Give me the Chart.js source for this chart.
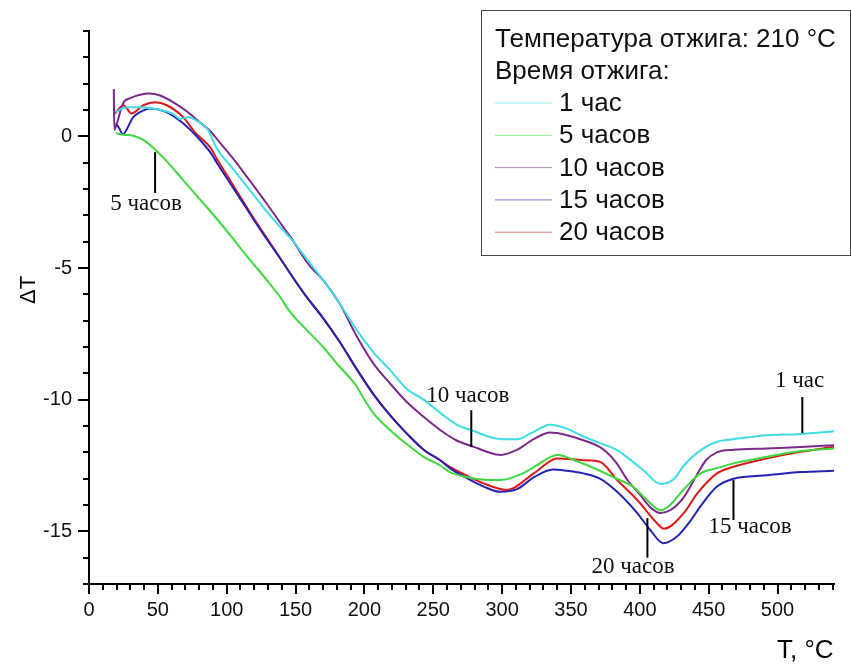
<!DOCTYPE html>
<html>
<head>
<meta charset="utf-8">
<script src="https://cdn.jsdelivr.net/npm/chart.js@4"></script>
<style>
  body { margin: 0; background: #fff; }
  canvas { display: block; }
</style>
</head>
<body>
<canvas id="chart" width="851" height="664"></canvas>
<script>
// annealing time series (legend labels)
const seriesNames = ['1 час', '5 часов', '10 часов', '15 часов', '20 часов'];
const seriesColors = ['#3fdde3', '#3fd83f', '#7b2a8c', '#2424b4', '#e01818'];

// 1 hour
const cyanT = [19.5, 22, 27.5, 37, 50, 56, 62, 66, 72, 78, 86, 92.8, 104, 117, 129, 141, 146, 158, 170, 182, 194.5, 206.6, 218.7, 231, 243, 255, 267, 280, 290, 300, 311, 320, 335, 347, 359, 371, 383, 391, 403, 415, 425, 432, 442, 456, 468, 492, 517, 541];
const cyanV = [0.9, 1.0, 1.1, 1.1, 1.02, 0.95, 0.82, 0.66, 0.72, 0.6, 0.28, -0.45, -1.2, -2.05, -2.85, -3.57, -3.85, -4.65, -5.46, -6.35, -7.36, -8.2, -8.88, -9.6, -10.0, -10.5, -10.95, -11.2, -11.4, -11.5, -11.5, -11.3, -10.95, -11.1, -11.4, -11.65, -11.9, -12.2, -12.7, -13.2, -13.0, -12.5, -12.0, -11.6, -11.5, -11.35, -11.3, -11.2];

// 5 hours
const greenT = [19.5, 25, 32, 40, 47, 56.5, 68.5, 80.7, 92.8, 104, 117, 129, 138.8, 146, 158, 170, 182, 190, 194.5, 200, 206.6, 218.7, 231, 243, 255, 262, 275, 290, 299, 315, 325, 340, 355, 371, 383, 395, 405, 415, 422, 432, 444, 456, 468, 492.5, 516.7, 541];
const greenV = [0.12, 0.06, 0.02, -0.15, -0.45, -0.95, -1.67, -2.4, -3.13, -3.85, -4.7, -5.45, -6.1, -6.67, -7.35, -8.0, -8.75, -9.2, -9.51, -10.0, -10.52, -11.16, -11.7, -12.17, -12.5, -12.75, -12.95, -13.05, -13.05, -12.8, -12.5, -12.1, -12.35, -12.7, -13.0, -13.3, -13.8, -14.2, -14.0, -13.4, -12.8, -12.6, -12.42, -12.17, -11.95, -11.85];

// 10 hours
const purpleT = [18, 18.4, 20, 24.7, 30, 44, 51.6, 61, 71, 80, 88, 92.8, 104, 117, 129, 141, 146, 160, 170, 182, 194.5, 206.6, 218.7, 231, 243, 255, 267, 280, 290, 299, 311, 323, 335, 347, 359, 371, 376, 383, 391, 400, 408, 415, 422, 432, 442, 448, 456, 468, 492, 517, 541];
const purpleV = [1.8, 0.25, 0.45, 1.25, 1.45, 1.63, 1.55, 1.3, 0.95, 0.55, 0.2, -0.1, -0.8, -1.7, -2.55, -3.44, -3.8, -4.9, -5.46, -6.35, -7.6, -8.63, -9.39, -10.1, -10.65, -11.15, -11.55, -11.8, -12.0, -12.1, -11.9, -11.5, -11.25, -11.35, -11.54, -11.8, -12.0, -12.4, -13.05, -13.6, -14.1, -14.3, -14.2, -13.7, -12.8, -12.3, -12.0, -11.9, -11.85, -11.8, -11.73];

// 15 hours
const blueT = [19.5, 22, 24.5, 32, 37, 44, 55, 68.5, 80, 88, 92.8, 104, 117, 129, 141, 146, 158, 170, 182, 194.5, 206.6, 218.7, 231, 243, 255, 262, 275, 286.6, 298.7, 310.8, 323, 337, 347, 359, 371, 383.5, 398, 407.6, 417, 427, 436.8, 444, 456, 468, 492.5, 517, 541];
const blueV = [0.5, 0.3, 0.08, 0.72, 0.92, 1.06, 0.95, 0.49, -0.1, -0.6, -1.0, -1.9, -2.95, -3.9, -4.8, -5.2, -6.1, -6.9, -7.8, -8.85, -9.8, -10.6, -11.3, -11.9, -12.3, -12.6, -13.0, -13.3, -13.5, -13.4, -12.95, -12.65, -12.7, -12.8, -13.0, -13.5, -14.3, -14.95, -15.45, -15.2, -14.6, -14.05, -13.3, -13.0, -12.87, -12.75, -12.7];

// 20 hours
const redT = [19, 25, 31, 39.5, 48, 56.5, 68.5, 77, 88, 92.8, 104, 117, 129, 141, 146, 158, 170, 182, 194.5, 206.6, 218.7, 231, 243, 255, 262, 275, 286.6, 303.5, 323, 340, 359, 371, 383.5, 398, 412.6, 417.4, 432, 441.6, 456, 468, 492.5, 516.7, 541];
const redV = [0.87, 1.18, 0.87, 1.18, 1.29, 1.18, 0.72, 0.15, -0.42, -0.85, -1.8, -2.9, -3.85, -4.8, -5.2, -6.1, -6.9, -7.8, -8.85, -9.8, -10.6, -11.3, -11.9, -12.3, -12.55, -12.9, -13.18, -13.43, -12.8, -12.23, -12.3, -12.36, -13.05, -13.8, -14.7, -14.9, -14.3, -13.57, -12.8, -12.55, -12.23, -11.98, -11.79];

const xMin = 0, xMax = 541, xStep = 50, xMinor = 10;
const yMin = -17, yMax = 4, yStep = 5, yMinor = 1;

// callouts on the curves: text, text anchor (T, dT), leader line (T, dT top, dT bottom)
const noteText = ['5 часов', '10 часов', '1 час', '20 часов', '15 часов'];
const noteAt = [[41.4, -2.55], [275, -9.85], [516, -9.3], [395, -16.35], [480, -14.85]];
const noteLine = [[48, -0.6, -2.15], [277.6, -10.4, -11.8], [518, -9.9, -11.27], [405.5, -14.5, -16.0], [468, -13.05, -14.57]];

const allT = [cyanT, greenT, purpleT, blueT, redT];
const allV = [cyanV, greenV, purpleV, blueV, redV];

const datasets = seriesNames.map((name, i) => ({
  label: name,
  data: allT[i].map((t, k) => ({ x: t, y: allV[i][k] })),
  borderColor: seriesColors[i],
  borderWidth: 2,
  pointRadius: 0,
  cubicInterpolationMode: 'monotone',
  fill: false
}));

const overlay = {
  id: 'overlay',
  afterDraw(chart) {
    const { ctx, chartArea: a } = chart;
    const x = chart.scales.x, y = chart.scales.y;
    const seg = (x1, y1, x2, y2) => { ctx.beginPath(); ctx.moveTo(x1, y1); ctx.lineTo(x2, y2); ctx.stroke(); };
    ctx.save();
    ctx.strokeStyle = '#000';
    ctx.lineWidth = 2;
    for (let v = xMin; v <= xMax; v += xMinor) {
      if (v % xStep === 0) continue;
      const px = Math.round(x.getPixelForValue(v));
      seg(px, a.bottom, px, a.bottom + 6);
    }
    for (let v = yMin; v <= yMax; v += yMinor) {
      if (v % yStep === 0) continue;
      const py = Math.round(y.getPixelForValue(v));
      seg(a.left - 6, py, a.left, py);
    }

    // callouts
    ctx.font = '23px "Liberation Serif", "Times New Roman", serif';
    ctx.fillStyle = '#111';
    ctx.textAlign = 'center';
    ctx.textBaseline = 'middle';
    noteText.forEach((txt, i) => {
      ctx.fillText(txt, x.getPixelForValue(noteAt[i][0]), y.getPixelForValue(noteAt[i][1]));
      const lx = x.getPixelForValue(noteLine[i][0]);
      seg(lx, y.getPixelForValue(noteLine[i][1]), lx, y.getPixelForValue(noteLine[i][2]));
    });

    // axis titles
    ctx.font = '22px Arial, "Liberation Sans", sans-serif';
    ctx.fillStyle = '#000';
    ctx.save();
    ctx.translate(29, 290);
    ctx.rotate(-Math.PI / 2);
    ctx.fillText('ΔT', 0, 0);
    ctx.restore();
    ctx.textAlign = 'left';
    ctx.textBaseline = 'alphabetic';
    ctx.font = '26px Arial, "Liberation Sans", sans-serif';
    ctx.fillText('T, °C', 777, 658);

    // legend box
    ctx.lineWidth = 1;
    ctx.strokeStyle = '#444';
    ctx.strokeRect(481.5, 10.5, 369, 245);
    ctx.font = '26px Arial, "Liberation Sans", sans-serif';
    ctx.fillStyle = '#111';
    ctx.fillText('Температура отжига: 210 °C', 495, 47);
    ctx.fillText('Время отжига:', 495, 79);
    seriesNames.forEach((name, i) => {
      const base = 111 + i * 32.3;
      ctx.strokeStyle = seriesColors[i];
      ctx.globalAlpha = 0.6;
      seg(495, base - 8, 552, base - 8);
      ctx.globalAlpha = 1;
      ctx.fillText(name, 559, base);
    });
    ctx.restore();
  }
};

new Chart(document.getElementById('chart'), {
  type: 'line',
  data: { datasets },
  options: {
    responsive: false,
    animation: false,
    devicePixelRatio: 1,
    layout: { padding: { left: 0, top: 31, right: 17, bottom: 0 } },
    plugins: { legend: { display: false }, tooltip: { enabled: false } },
    scales: {
      x: {
        type: 'linear',
        min: xMin,
        max: xMax,
        afterFit: s => { s.height = 80; },
        afterBuildTicks: s => { s.ticks = s.ticks.filter(t => t.value % xStep === 0); },
        ticks: { stepSize: xStep, padding: 4, color: '#111', font: { family: 'Arial', size: 20 } },
        grid: { display: true, drawOnChartArea: false, drawTicks: true, tickLength: 10, color: '#000', lineWidth: 2 },
        border: { display: true, color: '#000', width: 2 }
      },
      y: {
        type: 'linear',
        min: yMin,
        max: yMax,
        afterFit: s => { s.width = 89; },
        afterBuildTicks: s => { s.ticks = s.ticks.filter(t => t.value % yStep === 0); },
        ticks: { stepSize: yStep, padding: 6, color: '#111', font: { family: 'Arial', size: 20 } },
        grid: { display: true, drawOnChartArea: false, drawTicks: true, tickLength: 11, color: '#000', lineWidth: 2 },
        border: { display: true, color: '#000', width: 2 }
      }
    }
  },
  plugins: [overlay]
});
</script>
</body>
</html>
